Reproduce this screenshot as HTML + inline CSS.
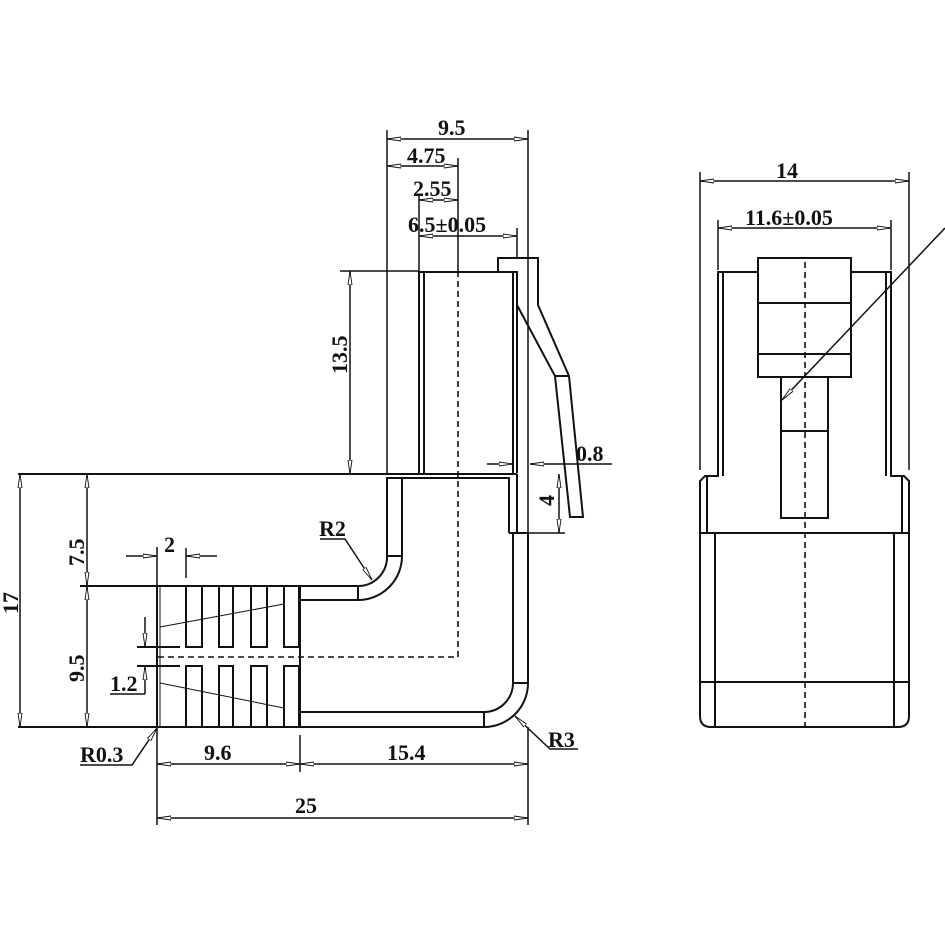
<!DOCTYPE html>
<html><head><meta charset="utf-8"><style>
html,body{margin:0;padding:0;background:#fff}
svg{display:block}
text{font-family:"Liberation Serif",serif;font-size:22px;font-weight:bold;fill:#111}
</style></head><body>
<svg width="945" height="945" viewBox="0 0 945 945" xmlns="http://www.w3.org/2000/svg">
<defs>
<marker id="a" viewBox="0 0 14 6" refX="14" refY="3" markerWidth="14" markerHeight="6" markerUnits="userSpaceOnUse" orient="auto-start-reverse">
<path d="M0,1 L14,3 L0,5 Z" fill="#fff" stroke="#111" stroke-width="0.9"/></marker>
</defs>
<g stroke="#111" stroke-width="2" fill="none">
<path d="M419,473 V272 H517 V473"/>
<line x1="424" y1="272" x2="424" y2="473"/>
<line x1="513" y1="272" x2="513" y2="473"/>
<path d="M498,272 V258 H538 V305 L569,376 L583,517 H570 L555,376 L517,305"/>
<line x1="555" y1="376" x2="569" y2="376"/>
<line x1="18" y1="474" x2="387" y2="474"/>
<path d="M387,533 V478 H509 V533"/>
<line x1="387" y1="474" x2="517" y2="474"/>
<line x1="517" y1="474" x2="517" y2="533"/>
<path d="M387,478 V556 A29,29 0 0 1 358,586 H300"/>
<path d="M402,478 V556 A44,44 0 0 1 358,600 H300"/>
<line x1="358" y1="586" x2="358" y2="600"/>
<line x1="387" y1="556" x2="402" y2="556"/>
<path d="M509,533 H528"/>
<path d="M513,533 V683 A29,29 0 0 1 484,712 H300"/>
<path d="M528,533 V683 A44,44 0 0 1 484,727 H157"/>
<line x1="484" y1="712" x2="484" y2="727"/>
<line x1="513" y1="683" x2="528" y2="683"/>
<line x1="80" y1="586" x2="300" y2="586"/>
<line x1="157" y1="586" x2="157" y2="727"/>
<line x1="160" y1="586" x2="160" y2="727" stroke-width="1"/>
<line x1="300" y1="586" x2="300" y2="727"/>
<rect x="186" y="586" width="16" height="61"/>
<rect x="219" y="586" width="14" height="61"/>
<rect x="251" y="586" width="16" height="61"/>
<rect x="284" y="586" width="15" height="61"/>
<rect x="186" y="666" width="16" height="61"/>
<rect x="219" y="666" width="14" height="61"/>
<rect x="251" y="666" width="16" height="61"/>
<rect x="284" y="666" width="15" height="61"/>
<line x1="137" y1="647" x2="180" y2="647"/>
<line x1="137" y1="666" x2="180" y2="666"/>
<line x1="18" y1="727" x2="157" y2="727"/>
</g>
<g stroke="#111" stroke-width="1" fill="none">
<line x1="160" y1="627" x2="284" y2="604"/>
<line x1="160" y1="683" x2="284" y2="708"/>
</g>
<g stroke="#111" stroke-width="1.6" fill="none" stroke-dasharray="6,4">
<path d="M458,271 V657 H157"/>
<line x1="805" y1="262" x2="805" y2="727"/>
</g>
<g stroke="#111" stroke-width="1.5" fill="none">
<line x1="387" y1="130" x2="387" y2="474"/>
<line x1="528" y1="130" x2="528" y2="533"/>
<line x1="458" y1="158" x2="458" y2="271"/>
<line x1="419" y1="196" x2="419" y2="271"/>
<line x1="517" y1="228" x2="517" y2="258"/>
<line x1="340" y1="271" x2="419" y2="271"/>
<line x1="517" y1="533" x2="565" y2="533"/>
<line x1="157" y1="547" x2="157" y2="586"/>
<line x1="186" y1="548" x2="186" y2="578"/>
<line x1="157" y1="727" x2="157" y2="825"/>
<line x1="300" y1="735" x2="300" y2="772"/>
<line x1="528" y1="727" x2="528" y2="825"/>
<line x1="387" y1="139" x2="528" y2="139" marker-start="url(#a)" marker-end="url(#a)"/>
<line x1="387" y1="166" x2="458" y2="166" marker-start="url(#a)" marker-end="url(#a)"/>
<line x1="419" y1="200" x2="458" y2="200" marker-start="url(#a)" marker-end="url(#a)"/>
<line x1="419" y1="236" x2="517" y2="236" marker-start="url(#a)" marker-end="url(#a)"/>
<line x1="350" y1="271" x2="350" y2="474" marker-start="url(#a)" marker-end="url(#a)"/>
<line x1="20" y1="474" x2="20" y2="727" marker-start="url(#a)" marker-end="url(#a)"/>
<line x1="87" y1="474" x2="87" y2="586" marker-start="url(#a)" marker-end="url(#a)"/>
<line x1="87" y1="586" x2="87" y2="727" marker-start="url(#a)" marker-end="url(#a)"/>
<line x1="126" y1="556" x2="157" y2="556" marker-end="url(#a)"/>
<line x1="217" y1="556" x2="186" y2="556" marker-end="url(#a)"/>
<line x1="145" y1="617" x2="145" y2="647" marker-end="url(#a)"/>
<line x1="145" y1="694" x2="145" y2="666" marker-end="url(#a)"/>
<line x1="110" y1="694" x2="145" y2="694"/>
<line x1="487" y1="464" x2="513" y2="464" marker-end="url(#a)"/>
<line x1="612" y1="464" x2="530" y2="464" marker-end="url(#a)"/>
<line x1="559" y1="474" x2="559" y2="533" marker-start="url(#a)" marker-end="url(#a)"/>
<line x1="157" y1="764" x2="300" y2="764" marker-start="url(#a)" marker-end="url(#a)"/>
<line x1="300" y1="764" x2="528" y2="764" marker-start="url(#a)" marker-end="url(#a)"/>
<line x1="157" y1="818" x2="528" y2="818" marker-start="url(#a)" marker-end="url(#a)"/>
<path d="M320,539 H345 L372,580" marker-end="url(#a)"/>
<path d="M578,749 H550 L515,716" marker-end="url(#a)"/>
<path d="M80,765 H132 L157,728" marker-end="url(#a)"/>
<line x1="945" y1="228" x2="782" y2="400" marker-end="url(#a)"/>
<line x1="700" y1="172" x2="700" y2="470"/>
<line x1="909" y1="172" x2="909" y2="470"/>
<line x1="718" y1="220" x2="718" y2="270"/>
<line x1="891" y1="220" x2="891" y2="270"/>
<line x1="700" y1="181" x2="909" y2="181" marker-start="url(#a)" marker-end="url(#a)"/>
<line x1="718" y1="228" x2="891" y2="228" marker-start="url(#a)" marker-end="url(#a)"/>
</g>
<g stroke="#111" stroke-width="2" fill="none">
<path d="M758,272 H718 V476 H705 L700,481 V533"/>
<path d="M723,272 V476"/>
<path d="M707,476 V533"/>
<path d="M851,272 H891 V476 H904 L909,481 V533"/>
<path d="M886,272 V476"/>
<path d="M902,476 V533"/>
<path d="M700,533 H909 V716 Q909,727 898,727 H711 Q700,727 700,716 Z"/>
<line x1="715" y1="533" x2="715" y2="727"/>
<line x1="894" y1="533" x2="894" y2="727"/>
<line x1="700" y1="682" x2="909" y2="682"/>
<rect x="758" y="258" width="93" height="119"/>
<line x1="758" y1="303" x2="851" y2="303"/>
<line x1="758" y1="354" x2="851" y2="354"/>
<rect x="781" y="377" width="47" height="141"/>
<line x1="781" y1="431" x2="828" y2="431"/>
</g>
<text x="438" y="135">9.5</text>
<text x="407" y="163">4.75</text>
<text x="413" y="196">2.55</text>
<text x="408" y="232">6.5±0.05</text>
<text x="576" y="461">0.8</text>
<text x="776" y="178">14</text>
<text x="745" y="225">11.6±0.05</text>
<text x="164" y="552">2</text>
<text x="110" y="691">1.2</text>
<text x="319" y="536">R2</text>
<text x="548" y="747">R3</text>
<text x="80" y="762">R0.3</text>
<text x="204" y="760">9.6</text>
<text x="387" y="760">15.4</text>
<text x="295" y="813">25</text>
<text transform="translate(347,374) rotate(-90)">13.5</text>
<text transform="translate(18,614) rotate(-90)">17</text>
<text transform="translate(84,566) rotate(-90)">7.5</text>
<text transform="translate(84,682) rotate(-90)">9.5</text>
<text transform="translate(554,506) rotate(-90)">4</text>
</svg>
</body></html>
